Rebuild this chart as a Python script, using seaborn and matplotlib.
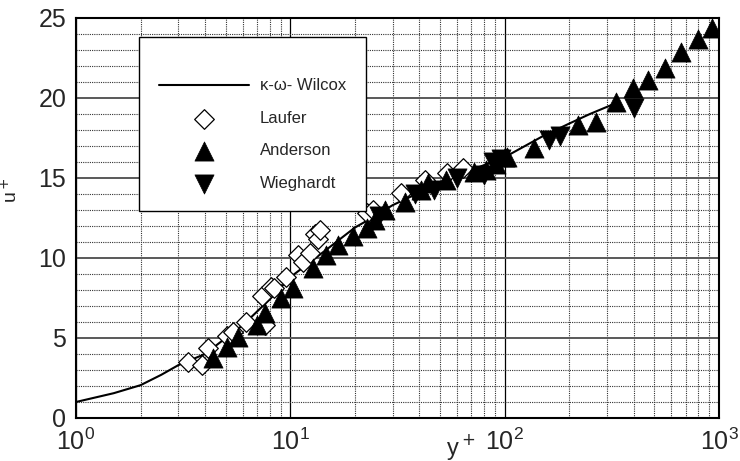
import numpy as np
import pandas as pd
import seaborn as sns
import matplotlib.pyplot as plt
from matplotlib.ticker import LogLocator, MultipleLocator, FuncFormatter, NullFormatter

# k-omega Wilcox curve
wilcox_y = [1, 1.5, 2, 2.5, 3, 4, 5, 6, 8, 10, 15, 20, 24, 30, 50, 70, 100, 150, 200, 250, 320]
wilcox_u = [1.0, 1.55, 2.05, 2.7, 3.3, 4.0, 5.0, 5.8, 7.4, 8.8, 10.6, 11.9, 12.5, 13.3, 14.7, 15.5, 16.3, 17.6, 18.4, 19.0, 19.6]

# Laufer (open diamonds)
laufer_y = [3.34, 3.88, 4.14, 5.07, 5.4, 6.2, 7.6, 7.4, 8.1, 8.4, 9.5, 10.9, 11.5, 12.4, 13.1, 13.5, 13.8,
            22.9, 24.4, 32.7, 42.7, 54, 64]
laufer_u = [3.5, 3.3, 4.4, 5.1, 5.4, 6.0, 5.8, 7.6, 8.2, 8.1, 8.8, 10.2, 9.75, 10.3, 11.5, 11.2, 11.75,
            12.8, 13.0, 14.06, 14.9, 15.3, 15.6]

# Anderson (filled up triangles)
anderson_y = [4.37, 5.07, 5.7, 7.0, 7.6, 9.0, 10.3, 12.8, 14.6, 16.6, 19.7, 22.9, 24.9, 27.8, 34.4, 40.5,
              44, 53, 72, 81.5, 91, 100, 103, 137, 219, 266, 330, 397, 466, 560, 664, 798, 927]
anderson_u = [3.75, 4.44, 5.06, 5.8, 6.56, 7.5, 8.1, 9.4, 10.2, 10.8, 11.4, 11.9, 12.4, 13.0, 13.5, 14.25,
              14.7, 14.9, 15.4, 15.5, 15.9, 16.3, 16.3, 16.9, 18.3, 18.5, 19.75, 20.6, 21.1, 21.9, 22.9, 23.7, 24.4]

# Wieghardt (filled down triangles)
wieghardt_y = [26, 38, 46.6, 60, 80, 88, 96, 161, 182, 401]
wieghardt_u = [12.6, 14.0, 14.25, 15.0, 15.2, 16.0, 16.2, 17.4, 17.6, 19.4]

sns.set_style('white')
plt.rcParams['font.family'] = ['Liberation Sans', 'DejaVu Sans']

fig = plt.figure(figsize=(7.4, 4.61), dpi=100)
ax = fig.add_axes([0.1027, 0.0933, 0.8689, 0.8677])

sns.lineplot(x=wilcox_y, y=wilcox_u, ax=ax, color='black', lw=1.5, label='κ-ω- Wilcox', zorder=3)
sns.scatterplot(x=laufer_y, y=laufer_u, ax=ax, marker='D', s=100, facecolor='white',
                edgecolor='black', linewidth=0.9, label='Laufer', zorder=4)
sns.scatterplot(x=anderson_y, y=anderson_u, ax=ax, marker='^', s=190, color='black',
                edgecolor='black', linewidth=0.5, label='Anderson', zorder=5)
sns.scatterplot(x=wieghardt_y, y=wieghardt_u, ax=ax, marker='v', s=190, color='black',
                edgecolor='black', linewidth=0.5, label='Wieghardt', zorder=5)

ax.set_xscale('log')
ax.set_xlim(1, 1000)
ax.set_ylim(0, 25)
ax.xaxis.set_major_locator(LogLocator(base=10, numticks=10))
ax.xaxis.set_minor_locator(LogLocator(base=10, subs=np.arange(2, 10), numticks=20))
ax.xaxis.set_major_formatter(FuncFormatter(lambda v, p: r'$\mathregular{10^{%d}}$' % round(np.log10(v))))
ax.xaxis.set_minor_formatter(NullFormatter())
ax.yaxis.set_major_locator(MultipleLocator(5))
ax.yaxis.set_minor_locator(MultipleLocator(1))

ax.grid(which='major', axis='x', color='black', lw=0.9, ls='-')
ax.grid(which='major', axis='y', color='0.35', lw=1.4, ls='-')
ax.grid(which='minor', color='0.2', lw=0.8, ls=(0, (1, 1)))
ax.set_axisbelow(True)

ax.tick_params(which='major', direction='in', length=6, width=1.2, labelsize=18, pad=8)
ax.tick_params(which='minor', direction='in', length=3, width=0.8)
ax.tick_params(axis='y', which='major', pad=7)
for s in ax.spines.values():
    s.set_color('black')
    s.set_linewidth(1.5)

ax.set_xlabel('y$^+$', fontsize=17)
ax.xaxis.set_label_coords(0.598, -0.035)
ax.set_ylabel('u$^+$', fontsize=14)
ax.yaxis.set_label_coords(-0.085, 0.57)

leg = ax.legend(loc='upper left', bbox_to_anchor=(0.098, 0.9525), borderaxespad=0, fontsize=12,
                frameon=True, fancybox=False, edgecolor='black', framealpha=1, borderpad=1.2,
                labelspacing=1.05, handlelength=5.4, handletextpad=0.66, title=' ', title_fontsize=2)
leg.get_frame().set_linewidth(1.0)

fig.savefig('out.png', dpi=100)
